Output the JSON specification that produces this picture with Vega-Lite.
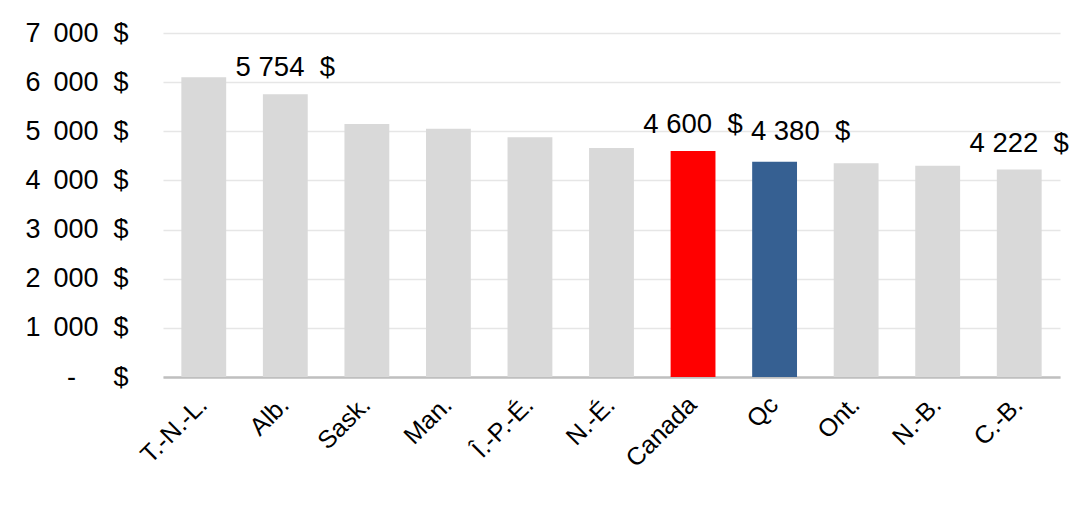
{
  "$schema": "https://vega.github.io/schema/vega-lite/v6.json",
  "autosize": "none",
  "width": 897,
  "height": 344,
  "padding": {"left": 163, "top": 33, "right": 14, "bottom": 144},
  "background": "white",
  "config": {
    "locale": {"number": {"decimal": ",", "thousands": "\u00a0", "grouping": [3], "currency": ["", "\u00a0\u00a0$"]}},
    "view": {"stroke": null},
    "font": "Liberation Sans"
  },
  "data": {
    "values": [
      {"prov": "T.-N.-L.", "value": 6100},
      {"prov": "Alb.", "value": 5754},
      {"prov": "Sask.", "value": 5150},
      {"prov": "Man.", "value": 5050},
      {"prov": "Î.-P.-É.", "value": 4880},
      {"prov": "N.-É.", "value": 4660},
      {"prov": "Canada", "value": 4600},
      {"prov": "Qc", "value": 4380},
      {"prov": "Ont.", "value": 4350},
      {"prov": "N.-B.", "value": 4300},
      {"prov": "C.-B.", "value": 4222}
    ]
  },
  "encoding": {
    "x": {
      "field": "prov", "type": "nominal", "sort": null,
      "scale": {"paddingInner": 0.45, "paddingOuter": 0.225},
      "axis": {"title": null, "labelAngle": -45, "labelAlign": "right", "labelBaseline": "alphabetic", "labelFontSize": 25, "labelPadding": 29, "labelOffset": 5, "ticks": false, "domainColor": "#bfbfbf", "domainWidth": 2.5, "labelColor": "black", "grid": false}
    },
    "y": {
      "field": "value", "type": "quantitative",
      "scale": {"domain": [0, 7000]},
      "axis": {"title": null, "values": [0, 1000, 2000, 3000, 4000, 5000, 6000, 7000], "labelExpr": "datum.value == 0 ? '-\u00a0\u00a0\u00a0\u00a0\u00a0$' : toString(datum.value / 1000) + '\u00a0\u2009000\u00a0\u00a0$'", "ticks": false, "domain": false, "grid": true, "gridColor": "#e6e6e6", "gridWidth": 1.5, "labelFontSize": 27, "labelPadding": 35, "labelColor": "black"}
    }
  },
  "layer": [
    {
      "mark": {"type": "bar"},
      "encoding": {
        "color": {
          "condition": [
            {"test": "datum.prov == 'Canada'", "value": "#ff0000"},
            {"test": "datum.prov == 'Qc'", "value": "#366092"}
          ],
          "value": "#d9d9d9"
        }
      }
    },
    {
      "transform": [{"filter": "indexof(['Alb.', 'Canada', 'C.-B.'], datum.prov) >= 0"}],
      "mark": {"type": "text", "dy": -18, "baseline": "alphabetic", "fontSize": 27.5, "color": "black"},
      "encoding": {"text": {"field": "value", "type": "quantitative", "format": "$,.0f"}}
    },
    {
      "transform": [{"filter": "datum.prov == 'Qc'"}],
      "mark": {"type": "text", "dy": -22, "dx": 26, "baseline": "alphabetic", "fontSize": 27.5, "color": "black"},
      "encoding": {"text": {"field": "value", "type": "quantitative", "format": "$,.0f"}}
    }
  ]
}
